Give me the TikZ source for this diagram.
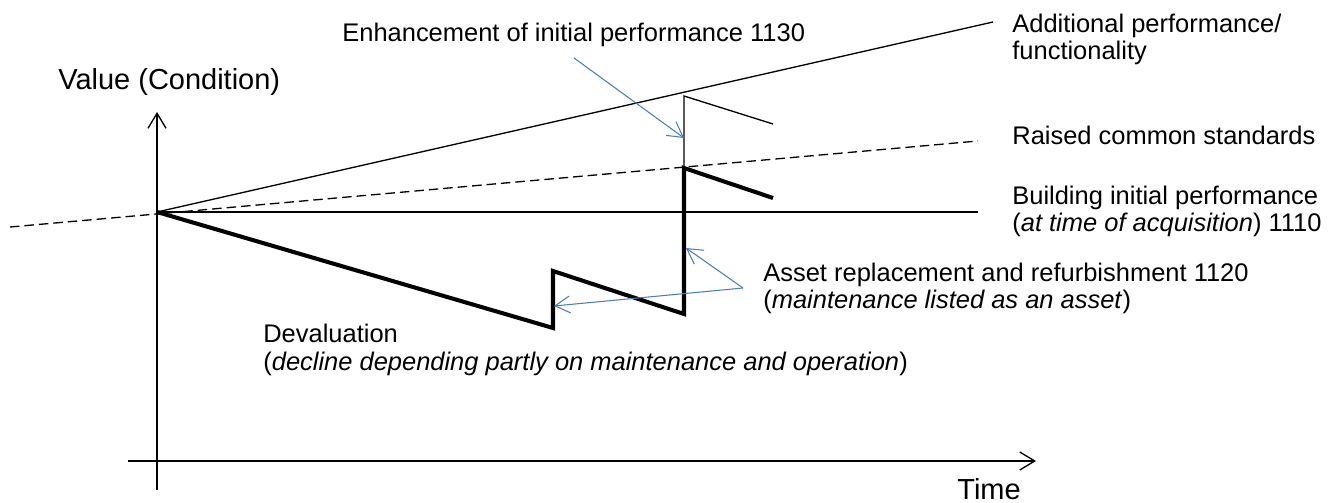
\documentclass[tikz,border=0pt]{standalone}
\usepackage{fontspec}
\setmainfont{Liberation Sans}
\usetikzlibrary{arrows.meta}
\definecolor{pointerblue}{RGB}{74,126,187}

\begin{document}
\begin{tikzpicture}[x=0.02cm, y=-0.02cm,
		axis/.style={line width=0.75pt, -{Straight Barb[length=0.3cm, width=0.36cm]}},
		trend/.style={line width=0.75pt},
		value line/.style={line width=2.3pt, line join=miter},
		pointer/.style={draw=pointerblue, line width=0.6pt, -{Straight Barb[length=0.3cm, width=0.34cm]}},
		label/.style={inner sep=0pt, anchor=base west, align=left, font=\fontsize{14.5}{15.4}\selectfont},
		axis label/.style={inner sep=0pt, anchor=base west, font=\fontsize{16.5}{18}\selectfont}]
		\useasboundingbox (0,0) rectangle (1329,503);

		\coordinate (origin) at (157,212);
		\coordinate (ybottom) at (157,490);
		\coordinate (ytop) at (157,112);
		\coordinate (xleft) at (128,461);
		\coordinate (xright) at (1036,461);
		\coordinate (stdleft) at (10,227);
		\coordinate (stdright) at (978,141);
		\coordinate (addright) at (993,22);
		\coordinate (initright) at (978,212);

		\coordinate (drop1) at (553,328);
		\coordinate (rise1) at (553,271);
		\coordinate (drop2) at (684,314);
		\coordinate (rise2) at (684,168);
		\coordinate (end2) at (773,198);
		\coordinate (rise3) at (684,96);
		\coordinate (end3) at (773,124);

		% base of a two-line label is its last line
		\node[axis label] (value) at (58,90) {Value (Condition)};
		\node[axis label] (time) at (957,499) {Time};
		\node[label] (enh) at (342,42) {Enhancement of initial performance 1130};
		\node[label] (add) at (1012,60) {Additional performance/\\functionality};
		\node[label] (raised) at (1012,145) {Raised common standards};
		\node[label] (init) at (1012,232) {Building initial performance\\(\textit{at time of acquisition}) 1110};
		\node[label] (asset) at (763,309) {Asset replacement and refurbishment 1120\\(\textit{maintenance listed as an asset})};
		\node[label] (deval) at (263,370) {Devaluation\\(\textit{decline depending partly on maintenance and operation})};

		\draw[axis] (ybottom) -- (ytop);
		\draw[axis] (xleft) -- (xright);

		\draw[trend, dash pattern=on 0.19cm off 0.1cm] (stdleft) -- (stdright);
		\draw[trend] (origin) -- (addright);
		\draw[trend] (origin) -- (initright);

		\draw[value line] (origin) -- (drop1) -- (rise1) -- (drop2) -- (rise2) -- (end2);
		\draw[trend] (rise2) -- (rise3) -- (end3);

		\coordinate (enhtail) at (574,58);
		\coordinate (enhtip) at (684,138);
		\coordinate (assettail) at (743,288);
		\coordinate (assettip1) at (686,248);
		\coordinate (assettip2) at (554,306);
		\draw[pointer] (enhtail) -- (enhtip);
		\draw[pointer] (assettail) -- (assettip1);
		\draw[pointer] (assettail) -- (assettip2);
	\end{tikzpicture}
\end{document}
